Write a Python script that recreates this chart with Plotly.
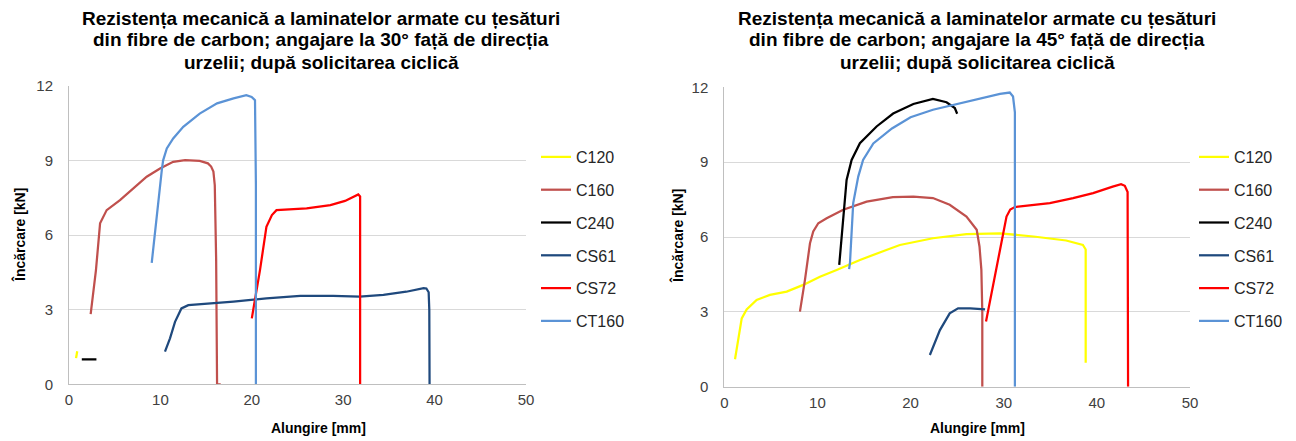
import plotly.graph_objects as go

PAGE_W, PAGE_H = 1296, 441
OFF = 8  # default body margin of the html page
W, H = PAGE_W - OFF, PAGE_H - OFF

series_names = ["C120", "C160", "C240", "CS61", "CS72", "CT160"]
series_colors = ["#FFFF00", "#C0504D", "#000000", "#1F497D", "#FF0000", "#5B93D6"]

# ---------- 30 degrees (left chart) ----------
c120_30_x = [0.77, 0.90]
c120_30_y = [1.05, 1.33]
c160_30_x = [2.37, 2.95, 3.4, 4.12, 5.58, 7.04, 8.5, 9.96, 11.4, 12.7, 14.3, 15.2, 15.55, 15.8, 15.95, 16.1, 16.2, 16.6]
c160_30_y = [2.82, 4.59, 6.47, 7.0, 7.4, 7.87, 8.34, 8.67, 8.94, 9.01, 8.98, 8.88, 8.75, 8.55, 8.0, 5.0, 0.0, 0.0]
c240_30_x = [1.4, 3.0]
c240_30_y = [1.0, 1.0]
cs61_30_x = [10.5, 11.05, 11.6, 12.3, 13.05, 14.3, 18.0, 21.6, 25.3, 28.9, 31.8, 34.4, 36.9, 38.8, 39.1, 39.35, 39.42, 39.45]
cs61_30_y = [1.31, 1.85, 2.51, 3.05, 3.18, 3.21, 3.32, 3.45, 3.55, 3.55, 3.52, 3.59, 3.72, 3.86, 3.85, 3.7, 3.0, 0.0]
cs72_30_x = [20.0, 20.9, 21.6, 22.2, 22.7, 24.2, 26.0, 28.6, 30.2, 31.65, 31.85, 31.85]
cs72_30_y = [2.65, 4.6, 6.33, 6.8, 7.0, 7.03, 7.07, 7.2, 7.37, 7.63, 7.55, 0.0]
ct160_30_x = [9.05, 9.6, 10.15, 10.3, 10.7, 11.4, 12.5, 14.3, 16.2, 18.0, 19.4, 19.98, 20.35, 20.45, 20.45]
ct160_30_y = [4.88, 6.87, 8.6, 9.0, 9.48, 9.88, 10.35, 10.88, 11.29, 11.49, 11.62, 11.55, 11.42, 8.0, 0.0]

# ---------- 45 degrees (right chart) ----------
c120_45_x = [1.15, 1.5, 1.87, 2.4, 3.47, 4.9, 6.7, 8.48, 10.27, 12.06, 14.56, 17.4, 18.85, 22.4, 26.0, 29.6, 33.2, 36.7, 38.5, 38.8, 38.8]
c120_45_y = [1.1, 1.87, 2.74, 3.1, 3.48, 3.68, 3.81, 4.08, 4.41, 4.68, 5.08, 5.48, 5.68, 5.95, 6.12, 6.15, 6.02, 5.86, 5.68, 5.5, 0.96]
c160_45_x = [8.12, 8.66, 9.2, 9.55, 10.09, 10.99, 12.77, 15.28, 18.1, 20.3, 22.4, 24.2, 26.0, 27.1, 27.4, 27.6, 27.7, 27.7]
c160_45_y = [3.01, 4.28, 5.75, 6.22, 6.55, 6.75, 7.09, 7.42, 7.6, 7.62, 7.56, 7.29, 6.82, 6.29, 5.62, 4.68, 3.0, 0.0]
c240_45_x = [12.34, 12.5, 12.77, 13.13, 13.67, 14.56, 16.35, 18.13, 20.3, 22.4, 23.86, 24.75, 25.0]
c240_45_y = [4.88, 5.6, 6.69, 8.29, 9.09, 9.76, 10.43, 10.95, 11.33, 11.53, 11.4, 11.17, 10.94]
cs61_45_x = [22.07, 23.15, 24.2, 25.1, 26.4, 28.0]
cs61_45_y = [1.27, 2.27, 2.94, 3.14, 3.14, 3.1]
cs72_45_x = [28.1, 28.86, 29.6, 30.3, 30.7, 31.2, 32.45, 34.95, 37.45, 39.6, 41.7, 42.6, 43.0, 43.3, 43.35]
cs72_45_y = [2.61, 4.01, 5.48, 6.82, 7.1, 7.2, 7.25, 7.36, 7.56, 7.76, 8.02, 8.12, 8.05, 7.8, 0.0]
ct160_45_x = [13.4, 13.49, 13.84, 14.38, 14.9, 16.0, 18.0, 20.0, 22.4, 26.0, 29.6, 30.65, 31.0, 31.2, 31.2]
ct160_45_y = [4.71, 4.95, 7.36, 8.42, 9.09, 9.75, 10.35, 10.8, 11.1, 11.43, 11.74, 11.79, 11.63, 11.0, 0.0]

left_data = [(c120_30_x, c120_30_y), (c160_30_x, c160_30_y), (c240_30_x, c240_30_y),
             (cs61_30_x, cs61_30_y), (cs72_30_x, cs72_30_y), (ct160_30_x, ct160_30_y)]
right_data = [(c120_45_x, c120_45_y), (c160_45_x, c160_45_y), (c240_45_x, c240_45_y),
              (cs61_45_x, cs61_45_y), (cs72_45_x, cs72_45_y), (ct160_45_x, ct160_45_y)]

title_30_lines = ["Rezistența mecanică a laminatelor armate cu țesături",
                  "din fibre de carbon; angajare la 30° față de direcția",
                  "urzelii; după solicitarea ciclică"]
title_45_lines = ["Rezistența mecanică a laminatelor armate cu țesături",
                  "din fibre de carbon; angajare la 45° față de direcția",
                  "urzelii; după solicitarea ciclică"]
x_title = "Alungire [mm]"
y_title = "Încărcare [kN]"
x_ticks = [0, 10, 20, 30, 40, 50]
y_ticks = [0, 3, 6, 9, 12]

fig = go.Figure()
for (xs, ys), name, col in zip(left_data, series_names, series_colors):
    fig.add_trace(go.Scatter(x=xs, y=ys, mode="lines", name=name, xaxis="x", yaxis="y",
                             line=dict(color=col, width=2.25), legend="legend",
                             legendgroup="L" + name))
for (xs, ys), name, col in zip(right_data, series_names, series_colors):
    fig.add_trace(go.Scatter(x=xs, y=ys, mode="lines", name=name, xaxis="x2", yaxis="y2",
                             line=dict(color=col, width=2.25), legend="legend2",
                             legendgroup="R" + name))

def px_x(p):
    # page pixel -> paper fraction
    return (p - OFF) / W

def px_y(p):
    return 1 - (p - OFF) / H

axis_common = dict(showgrid=False, zeroline=False, showline=True, linecolor="#BFBFBF", linewidth=1,
                   ticks="", automargin=False,
                   tickfont=dict(family="Liberation Sans, Arial", size=15, color="#404040"))
xcommon = dict(axis_common, range=[0, 50], tickvals=x_ticks, ticklabelstandoff=2)
ycommon = dict(axis_common, range=[0, 12], tickvals=y_ticks, showgrid=True, gridcolor="#D9D9D9",
               gridwidth=1, ticklabelstandoff=12)

legend_common = dict(font=dict(family="Liberation Sans, Arial", size=16, color="#262626"),
                     bgcolor="rgba(0,0,0,0)", tracegroupgap=9, itemwidth=30,
                     xanchor="left", yanchor="top")

fig.update_layout(
    width=W, height=H,
    margin=dict(l=0, r=0, t=0, b=0, autoexpand=False),
    paper_bgcolor="white", plot_bgcolor="white",
    xaxis=dict(xcommon, domain=[px_x(69), px_x(526)], anchor="y"),
    yaxis=dict(ycommon, domain=[px_y(384.3), px_y(85.7)], anchor="x"),
    xaxis2=dict(xcommon, domain=[px_x(724.3), px_x(1190)], anchor="y2"),
    yaxis2=dict(ycommon, domain=[px_y(386.7), px_y(87.3)], anchor="x2"),
    legend=dict(legend_common, x=px_x(536), y=px_y(140)),
    legend2=dict(legend_common, x=px_x(1194), y=px_y(140)),
    showlegend=True,
)

title_font = dict(family="Liberation Sans, Arial", size=19, color="#000000")
axt_font = dict(family="Liberation Sans, Arial", size=14, color="#000000")
ann = []
line_y = [18, 40, 62]
for txt, yy in zip(title_30_lines, line_y):
    ann.append(dict(text="<b>" + txt + "</b>", x=px_x(321), y=px_y(yy), font=title_font))
for txt, yy in zip(title_45_lines, line_y):
    ann.append(dict(text="<b>" + txt + "</b>", x=px_x(977), y=px_y(yy), font=title_font))
ann += [
    dict(text="<b>" + x_title + "</b>", x=px_x(318), y=px_y(428), font=axt_font),
    dict(text="<b>" + x_title + "</b>", x=px_x(977), y=px_y(428), font=axt_font),
    dict(text="<b>" + y_title + "</b>", x=px_x(19), y=px_y(235), font=axt_font, textangle=-90),
    dict(text="<b>" + y_title + "</b>", x=px_x(677), y=px_y(236), font=axt_font, textangle=-90),
]
for a in ann:
    a.update(xref="paper", yref="paper", showarrow=False, xanchor="center", yanchor="middle")
fig.update_layout(annotations=ann)

fig.write_html("out.html")
